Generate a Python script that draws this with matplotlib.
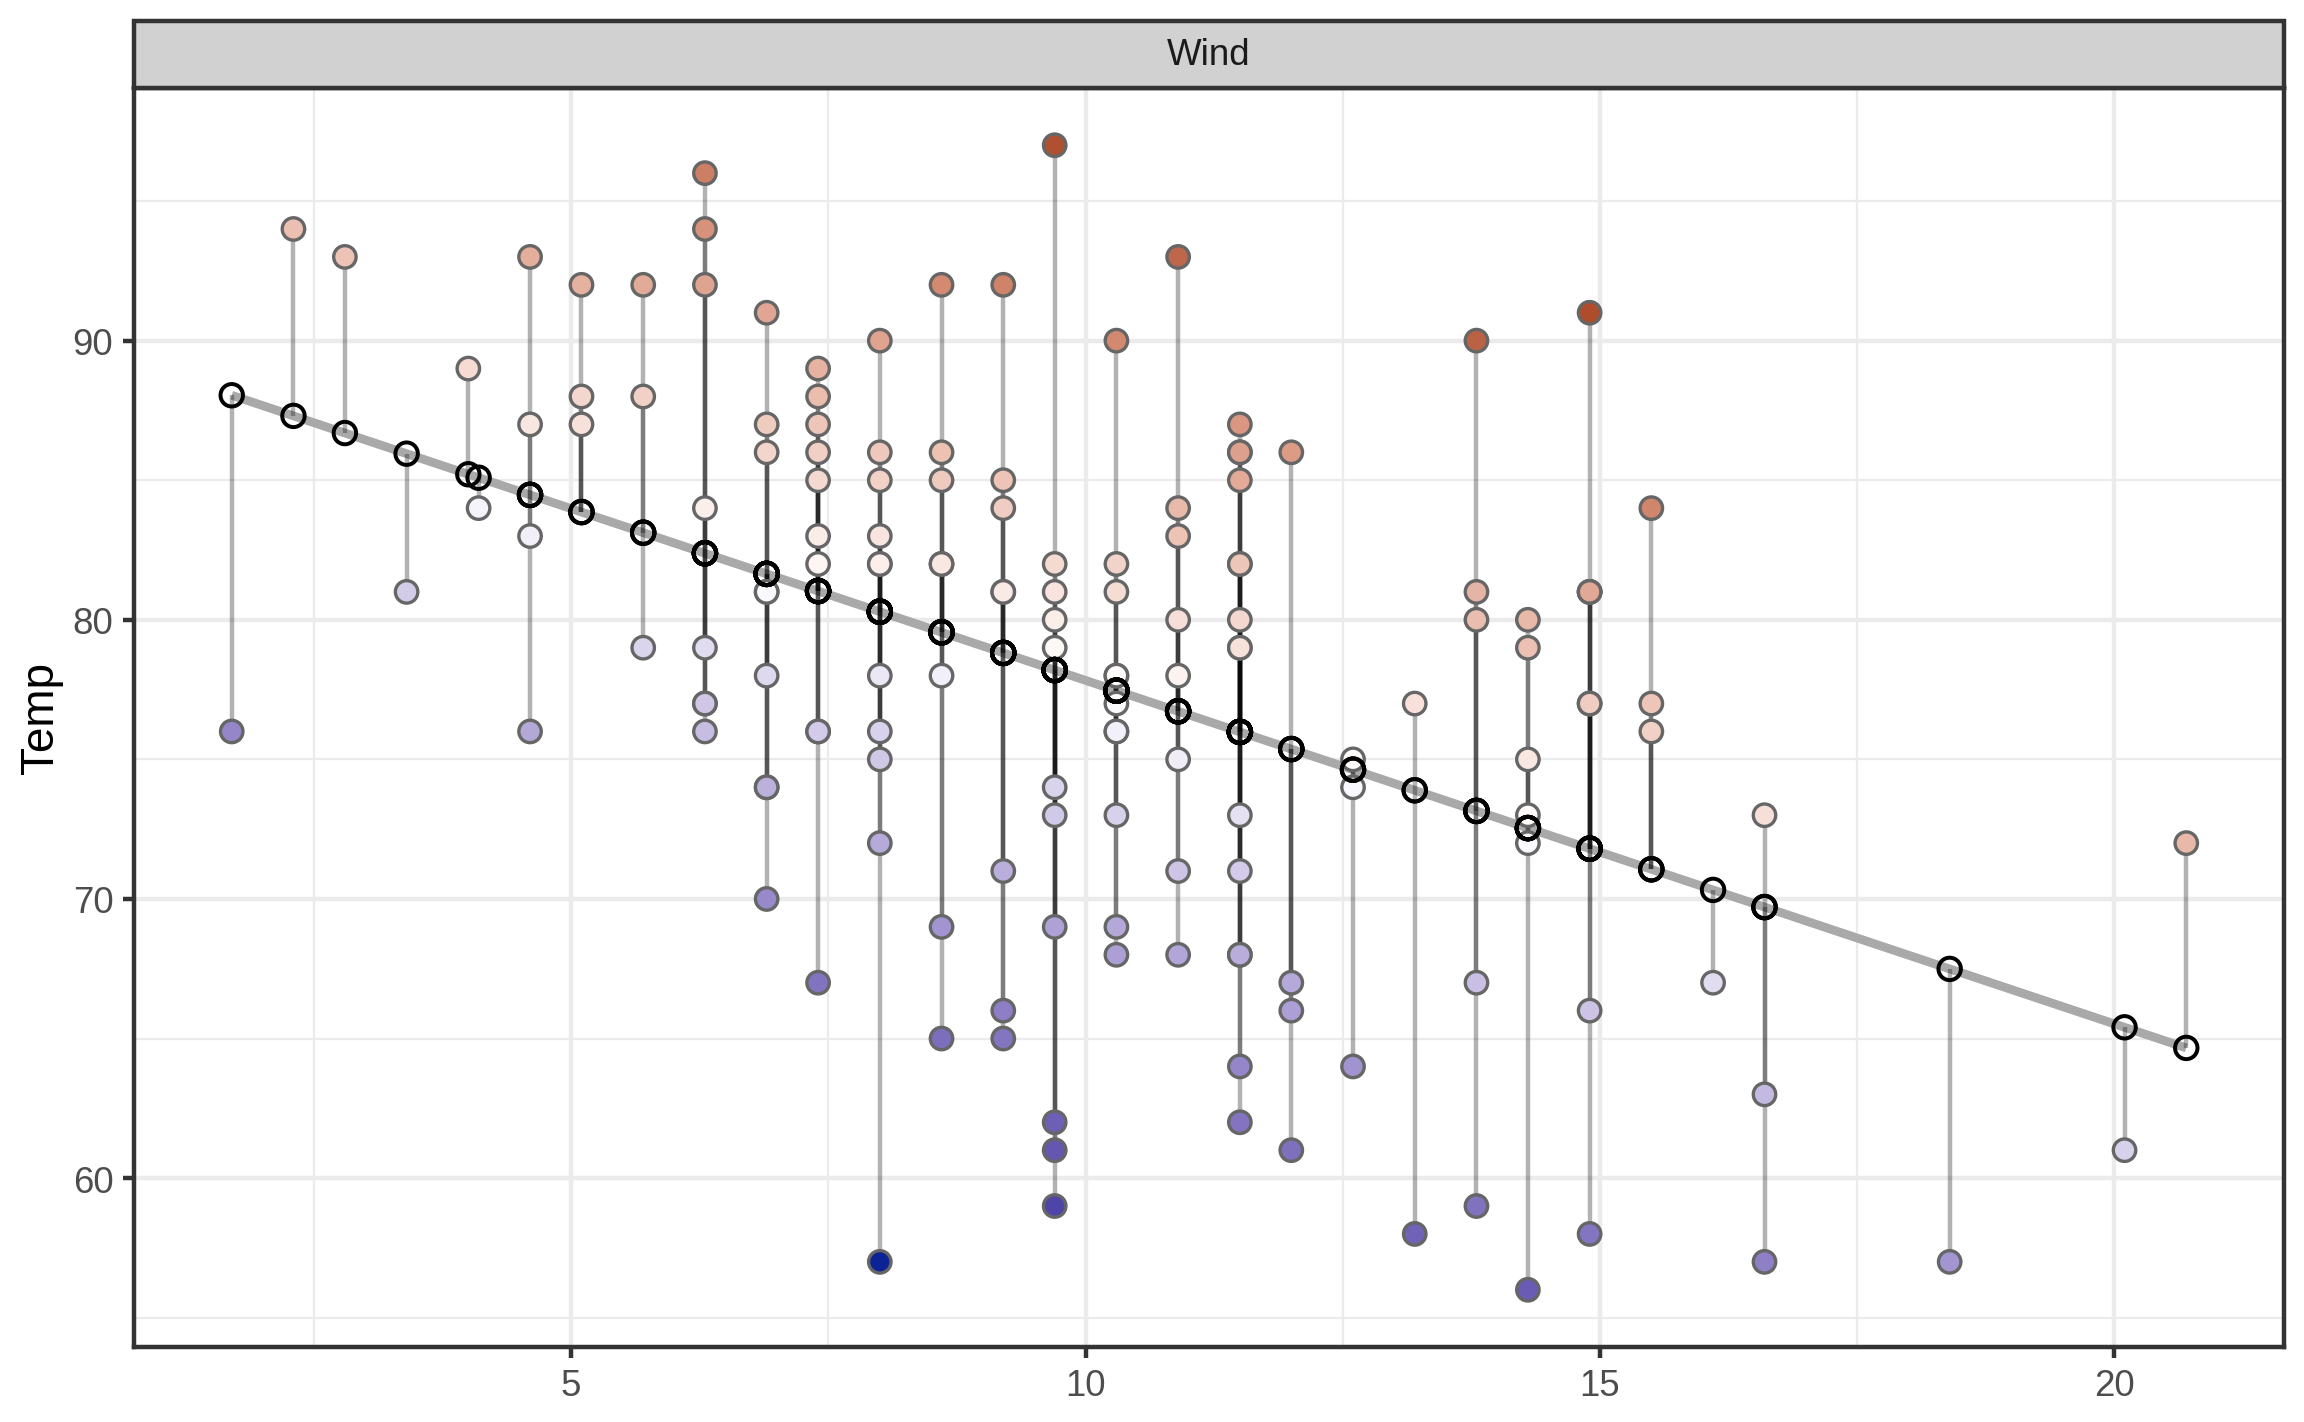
import numpy as np
import matplotlib
matplotlib.use("Agg")
import matplotlib.pyplot as plt
from matplotlib.colors import to_rgb
from matplotlib.patches import Rectangle

# airquality: Wind / Temp
wind = [7.4, 8.0, 12.6, 11.5, 14.3, 14.9, 8.6, 13.8, 20.1, 8.6,
        6.9, 9.7, 9.2, 10.9, 13.2, 11.5, 12.0, 18.4, 11.5, 9.7,
        9.7, 16.6, 9.7, 12.0, 16.6, 14.9, 8.0, 12.0, 14.9, 5.7,
        7.4, 8.6, 9.7, 16.1, 9.2, 8.6, 14.3, 9.7, 6.9, 13.8,
        11.5, 10.9, 9.2, 8.0, 13.8, 11.5, 14.9, 20.7, 9.2, 11.5,
        10.3, 6.3, 1.7, 4.6, 6.3, 8.0, 8.0, 10.3, 11.5, 14.9,
        8.0, 4.1, 9.2, 9.2, 10.9, 4.6, 10.9, 5.1, 6.3, 5.7,
        7.4, 8.6, 14.3, 14.9, 14.9, 14.3, 6.9, 10.3, 6.3, 5.1,
        11.5, 6.9, 9.7, 11.5, 8.6, 8.0, 8.6, 12.0, 7.4, 7.4,
        7.4, 9.2, 6.9, 13.8, 7.4, 6.9, 7.4, 4.6, 4.0, 10.3,
        8.0, 8.6, 11.5, 11.5, 11.5, 9.7, 11.5, 10.3, 6.3, 7.4,
        10.9, 10.3, 15.5, 14.3, 12.6, 9.7, 3.4, 8.0, 5.7, 9.7,
        2.3, 6.3, 6.3, 6.9, 5.1, 2.8, 4.6, 7.4, 15.5, 10.9,
        10.3, 10.9, 9.7, 14.9, 15.5, 6.3, 10.9, 11.5, 6.9, 13.8,
        10.3, 10.3, 8.0, 12.6, 9.2, 10.3, 10.3, 16.6, 6.9, 13.2,
        14.3, 8.0, 11.5]
temp = [67, 72, 74, 62, 56, 66, 65, 59, 61, 69,
        74, 69, 66, 68, 58, 64, 66, 57, 68, 62,
        59, 73, 61, 61, 57, 58, 57, 67, 81, 79,
        76, 78, 74, 67, 84, 85, 79, 82, 87, 90,
        87, 93, 92, 82, 80, 79, 77, 72, 65, 73,
        76, 77, 76, 76, 76, 75, 78, 73, 80, 77,
        83, 84, 85, 81, 84, 83, 83, 88, 92, 92,
        89, 82, 73, 81, 91, 80, 81, 82, 84, 87,
        85, 74, 81, 82, 86, 85, 82, 86, 88, 86,
        83, 81, 81, 81, 82, 86, 85, 87, 89, 90,
        90, 92, 86, 86, 82, 80, 79, 77, 79, 76,
        78, 78, 77, 72, 75, 79, 81, 86, 88, 97,
        94, 96, 94, 91, 92, 93, 93, 87, 84, 80,
        78, 75, 73, 81, 76, 77, 71, 71, 78, 67,
        76, 68, 82, 64, 71, 81, 69, 63, 70, 77,
        75, 76, 68]

x_ticks = [5, 10, 15, 20]
y_ticks = [60, 70, 80, 90]

wind = np.array(wind)
temp = np.array(temp, dtype=float)

# lm(Temp ~ Wind)
slope, intercept = np.polyfit(wind, temp, 1)
predicted = intercept + slope * wind
residuals = temp - predicted

# --- colour scale (diverging, interpolated in Lab like ggplot) ---
M = np.array([[0.4124, 0.3576, 0.1805],
              [0.2126, 0.7152, 0.0722],
              [0.0193, 0.1192, 0.9505]])
WHITE = np.array([0.95047, 1.0, 1.08883])

def to_lab(rgb):
    rgb = np.asarray(rgb, float)
    lin = np.where(rgb <= 0.04045, rgb / 12.92, ((rgb + 0.055) / 1.055) ** 2.4)
    xyz = lin @ M.T / WHITE
    f = np.where(xyz > 0.008856, np.cbrt(xyz), 7.787 * xyz + 16 / 116)
    return np.stack([116 * f[..., 1] - 16,
                     500 * (f[..., 0] - f[..., 1]),
                     200 * (f[..., 1] - f[..., 2])], -1)

def from_lab(lab):
    fy = (lab[..., 0] + 16) / 116
    f = np.stack([fy + lab[..., 1] / 500, fy, fy - lab[..., 2] / 200], -1)
    xyz = np.where(f > 0.206897, f ** 3, (f - 16 / 116) / 7.787) * WHITE
    lin = np.clip(xyz @ np.linalg.inv(M).T, 0, None)
    rgb = np.where(lin <= 0.0031308, 12.92 * lin, 1.055 * lin ** (1 / 2.4) - 0.055)
    return np.clip(rgb, 0, 1)

low, mid, high = to_lab(to_rgb("#0c2295")), to_lab(to_rgb("white")), to_lab(to_rgb("#962200"))
t = residuals / (2 * np.abs(residuals).max()) + 0.5
s = np.where(t < 0.5, t / 0.5, (t - 0.5) / 0.5)[:, None]
lab = np.where((t < 0.5)[:, None], low + (mid - low) * s, mid + (high - mid) * s)
fills = from_lab(lab)

plt.rcParams['font.family'] = ['Liberation Sans', 'DejaVu Sans']

fig = plt.figure(figsize=(7.68, 4.7433), dpi=300)
ax = fig.add_axes([134 / 2304, 1 - 1348 / 1423, (2284 - 134) / 2304, (1348 - 89) / 1423])

xr = wind.max() - wind.min()
yr = temp.max() - temp.min()
ax.set_xlim(wind.min() - 0.05 * xr, wind.max() + 0.05 * xr)
ax.set_ylim(temp.min() - 0.05 * yr, temp.max() + 0.05 * yr)

ax.set_xticks(x_ticks)
ax.set_yticks(y_ticks)
ax.set_xticks([2.5, 7.5, 12.5, 17.5], minor=True)
ax.set_yticks([55, 65, 75, 85, 95], minor=True)
ax.grid(which='major', color='#EBEBEB', lw=1.07)
ax.grid(which='minor', color='#EBEBEB', lw=0.53)
ax.set_axisbelow(True)
ax.tick_params(which='major', length=2.75, width=1.07, color='#333333',
               labelcolor='#4D4D4D', labelsize=8.8, pad=2.2)
ax.tick_params(which='minor', length=0)
for sp in ax.spines.values():
    sp.set_color('#333333')
    sp.set_linewidth(1.07)

# fitted line
xs = np.array([wind.min(), wind.max()])
ax.plot(xs, intercept + slope * xs, color='#A9A9A9', lw=2.1, zorder=2,
        solid_capstyle='butt')

# residual segments
ax.vlines(wind, temp, predicted, colors='black', alpha=0.3, lw=1.07,
          capstyle='butt', zorder=3)

# actual and predicted points
ax.scatter(wind, temp, s=29, c=fills, edgecolors='#666666', linewidths=0.8, zorder=4)
ax.scatter(wind, predicted, s=29, facecolors='none', edgecolors='black',
           linewidths=0.95, zorder=5)

# facet strip
strip_h = 67 / (1348 - 89)
ax.add_patch(Rectangle((0, 1), 1, strip_h, transform=ax.transAxes, clip_on=False,
                       facecolor='#D1D1D1', edgecolor='#333333', lw=1.07, zorder=6))
ax.text(0.5, 1 + strip_h / 2, "Wind", transform=ax.transAxes, ha='center', va='center',
        fontsize=8.8, color='#1A1A1A', zorder=7)

fig.text(41 / 2304, 1 - 718.5 / 1423, "Temp", rotation=90, ha='center', va='center',
         fontsize=11, color='black')

fig.savefig("out.png", dpi=300)
